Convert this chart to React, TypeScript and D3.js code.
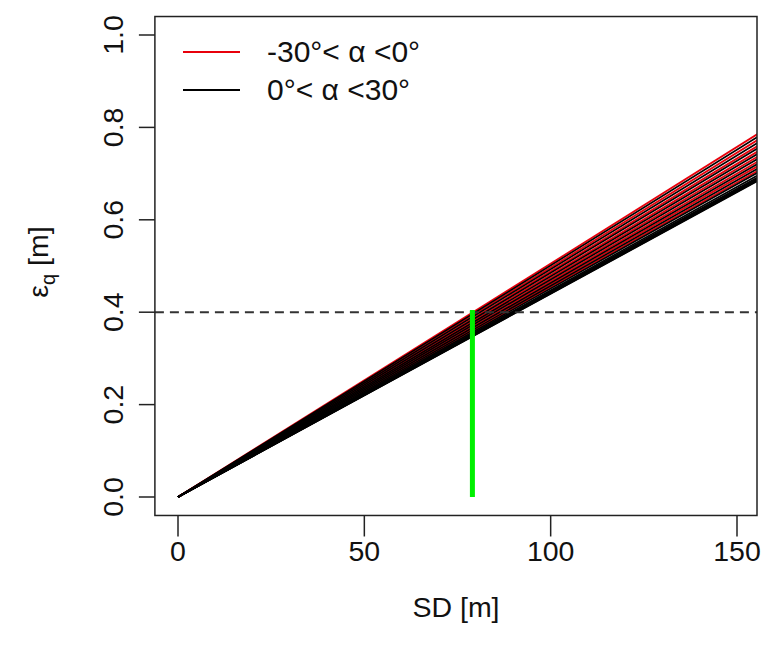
import React from 'react';
import * as d3 from 'd3';

// slant distance range drawn for each line
const sdRange = [0, 156];

// value of eps_q at SD = 156 m for each alpha
const redEnds = [0.788, 0.775, 0.762, 0.750, 0.739, 0.728, 0.718, 0.708];
const blackEnds = [0.782, 0.769, 0.757, 0.745, 0.734, 0.723, 0.713, 0.704, 0.698, 0.694, 0.691, 0.689, 0.687, 0.686];

const xTicks = [0, 50, 100, 150];
const yTicks = [0, 0.2, 0.4, 0.6, 0.8, 1.0];
const threshold = 0.4;
const greenSD = 79;
const greenTop = 0.405;

const legendItems = [
  { label: '-30°< α <0°', color: '#e8000b' },
  { label: '0°< α <30°', color: '#000000' },
];

const W = 765;
const H = 651;
const font = '"Liberation Sans", Arial, sans-serif';
const fs = 28.5;

const App = () => {
  const x = d3.scaleLinear().domain([0, 150]).range([178, 737]);
  const y = d3.scaleLinear().domain([0, 1]).range([497, 35]);

  const left = x(-6.2);
  const right = 757;
  const top = y(1.04);
  const bottom = y(-0.04);

  const line = d3.line<[number, number]>()
    .x(d => x(d[0]))
    .y(d => y(d[1]));

  const path = (end: number) => line(sdRange.map(s => [s, (end * s) / sdRange[1]] as [number, number])) || '';

  return (
    <svg width={W} height={H} style={{ position: 'absolute', left: 0, top: 0, background: '#fff' }}>
      <defs>
        <clipPath id="plotClip">
          <rect x={left} y={top} width={right - left} height={bottom - top} />
        </clipPath>
      </defs>

      <g clipPath="url(#plotClip)">
        {/* red lines first, black drawn over them */}
        {redEnds.map((e, i) => (
          <path key={'r' + i} d={path(e)} fill="none" stroke="#e8000b" strokeWidth={1.8} />
        ))}
        {blackEnds.map((e, i) => (
          <path key={'b' + i} d={path(e)} fill="none" stroke="#000" strokeWidth={1.7} />
        ))}

        <line x1={left} x2={right} y1={y(threshold)} y2={y(threshold)}
          stroke="#333" strokeWidth={2} strokeDasharray="9,6" />

        <line x1={x(greenSD)} x2={x(greenSD)} y1={y(0)} y2={y(greenTop)}
          stroke="#00f000" strokeWidth={5} />
      </g>

      {/* plot box */}
      <rect x={left} y={top} width={right - left} height={bottom - top} fill="none" stroke="#222" strokeWidth={1.5} />

      {/* x axis */}
      {xTicks.map(t => (
        <g key={'x' + t}>
          <line x1={x(t)} x2={x(t)} y1={bottom} y2={bottom + 21} stroke="#222" strokeWidth={1.5} />
          <text x={x(t)} y={561} textAnchor="middle" fontFamily={font} fontSize={fs} fill="#111">{t}</text>
        </g>
      ))}
      <text x={456} y={617} textAnchor="middle" fontFamily={font} fontSize={fs} fill="#111">SD [m]</text>

      {/* y axis */}
      {yTicks.map(t => (
        <g key={'y' + t}>
          <line x1={left} x2={left - 16} y1={y(t)} y2={y(t)} stroke="#222" strokeWidth={1.5} />
          <text transform={`translate(123,${y(t)}) rotate(-90)`} textAnchor="middle"
            fontFamily={font} fontSize={fs} fill="#111">{t.toFixed(1)}</text>
        </g>
      ))}
      <text transform={`translate(48,262) rotate(-90)`} textAnchor="middle" fontFamily={font} fontSize={fs} fill="#111">
        ε<tspan fontSize={20} dy={7}>q</tspan><tspan dy={-7}> [m]</tspan>
      </text>

      {/* legend */}
      {legendItems.map((it, i) => (
        <g key={'l' + i} transform={`translate(0,${52 + i * 38})`}>
          <line x1={183} x2={240} y1={0} y2={0} stroke={it.color} strokeWidth={1.8} />
          <text x={267} y={10} fontFamily={font} fontSize={30} fill="#111">{it.label}</text>
        </g>
      ))}
    </svg>
  );
};

export default App;
